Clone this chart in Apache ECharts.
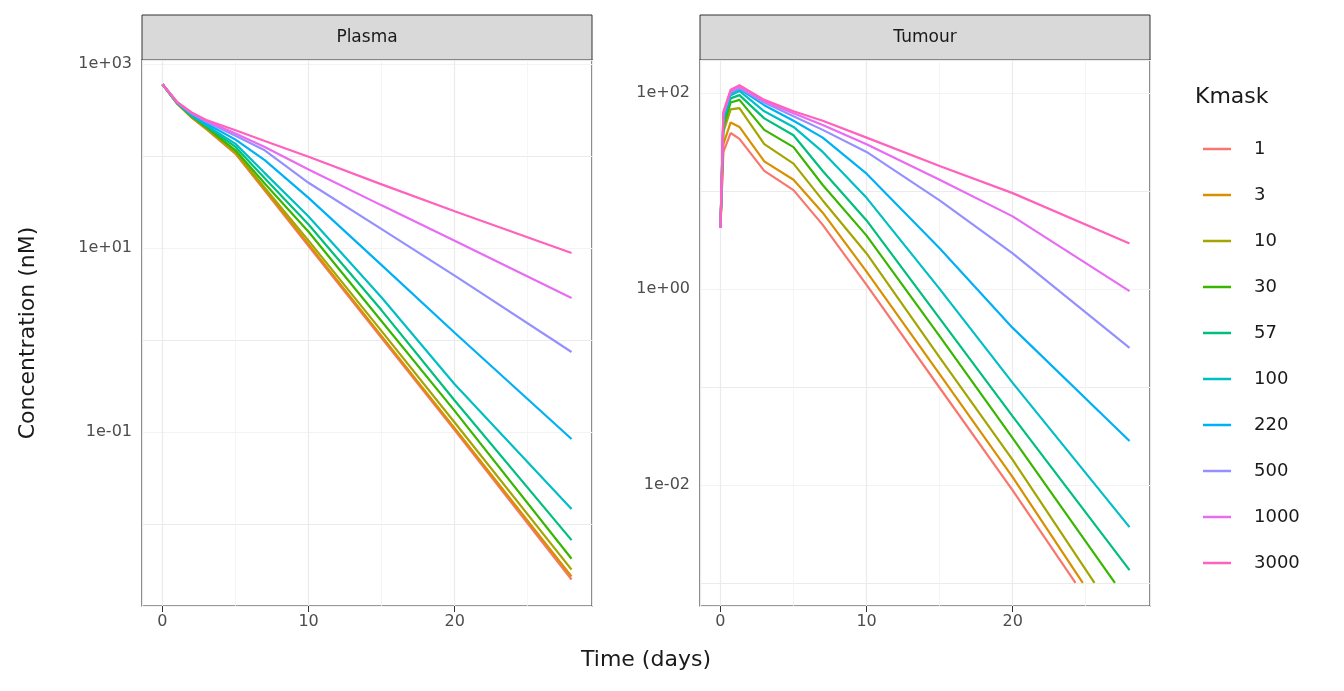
<!DOCTYPE html>
<html><head><meta charset="utf-8">
<script src="https://cdn.jsdelivr.net/npm/echarts@6/dist/echarts.min.js"></script>
<style>html,body{margin:0;padding:0;background:#fff}#c{width:1344px;height:691px}</style>
</head><body><div id="c"></div>
<script>
const kmask = ['1','3','10','30','57','100','220','500','1000','3000'];
const colors = ['#F8766D','#D89000','#A3A500','#39B600','#00BF7D','#00BFC4','#00B0F6','#9590FF','#E76BF3','#FF62BC'];
const plasmaTimes = [0,1,2,3,5,7,10,15,20,28];
const plasma1 = [600,370,260,195,105,42,10.5,1.05,0.105,0.0025];
const plasma3 = [600,370,262,197,107,43,11,1.1,0.11,0.0027];
const plasma10 = [600,372,265,200,110,45,12,1.25,0.127,0.0032];
const plasma30 = [600,374,268,205,115,50,15,1.6,0.17,0.0042];
const plasma57 = [600,376,272,210,125,57,18,2.1,0.22,0.0067];
const plasma100 = [600,378,276,215,135,65,22,2.9,0.33,0.0146];
const plasma220 = [600,380,282,225,150,90,35,6.5,1.2,0.084];
const plasma500 = [600,382,288,235,165,115,51,16,5,0.74];
const plasma1000 = [600,384,292,240,175,125,71,29,12,2.86];
const plasma3000 = [600,386,296,245,190,145,98,49,25,8.8];
const tumourTimes = [0,0.2,0.7,1.3,3,5,7,10,15,20];
const tumour1 = [4.2,25,39,34,16,10.2,4.5,1.1,0.098,0.0088];
const tumour3 = [4.2,30,50,45,20,13,6,1.5,0.135,0.012];
const tumour10 = [4.2,40,68,70,30,19,8,2.3,0.2,0.018];
const tumour30 = [4.2,45,80,85,42,28,11.5,3.5,0.33,0.03];
const tumour57 = [4.2,50,88,95,55,37,16,5,0.5,0.05];
const tumour100 = [4.2,55,95,105,65,45,25,8.5,1.0,0.11];
const tumour220 = [4.2,58,100,110,75,52,35,15,2.6,0.4];
const tumour500 = [4.2,60,102,112,80,58,42,25,8,2.3];
const tumour1000 = [4.2,62,105,115,82,62,47,30,13,5.5];
const tumour3000 = [4.2,64,108,120,85,65,52,35,18,9.5];
const tumourEndTime = [24.3,24.8,25.6,27,28,28,28,28,28,28];
const tumourEndValue = [0.001,0.001,0.001,0.001,0.00135,0.0037,0.028,0.25,0.95,2.9];
const plasmaYTicks = ['1e-01','1e+01','1e+03'];
const tumourYTicks = ['1e-02','1e+00','1e+02'];

const plasmaAll = [plasma1,plasma3,plasma10,plasma30,plasma57,plasma100,plasma220,plasma500,plasma1000,plasma3000];
const tumourAll = [tumour1,tumour3,tumour10,tumour30,tumour57,tumour100,tumour220,tumour500,tumour1000,tumour3000];

function fmt(v, allowed){
  const l = Math.log10(v);
  const e = Math.round(l);
  if (Math.abs(l - e) > 0.01) return '';
  const s = (e<0?'-':'+') + String(Math.abs(e)).padStart(2,'0');
  const lab = '1e'+s;
  return allowed.indexOf(lab)>=0 ? lab : '';
}
const axisLabelStyle = {color:'#4d4d4d', fontSize:16, fontFamily:'DejaVu Sans'};
function xAxis(gi){
  return {type:'value', gridIndex:gi, min:-1.4, max:29.4, splitNumber:3,
    axisLine:{show:false}, axisTick:{show:true, length:6, lineStyle:{color:'#333'}},
    axisLabel:Object.assign({showMinLabel:false, showMaxLabel:false, margin:8}, axisLabelStyle),
    splitLine:{show:true, lineStyle:{color:'#ebebeb', width:1.2}},
    minorTick:{show:false, splitNumber:2}, minorSplitLine:{show:true, lineStyle:{color:'#f3f3f3', width:0.8}}};
}
function yAxis(gi, min, max, ticks, cols){
  return {type:'log', logBase:10, gridIndex:gi, min:min, max:max,
    axisLine:{show:false}, axisTick:{show:false},
    axisLabel:Object.assign({margin:10, showMinLabel:false, showMaxLabel:false, formatter:v=>fmt(v,ticks)}, axisLabelStyle),
    splitLine:{show:true, lineStyle:{color:cols, width:1.2}}};
}
const series = [];
kmask.forEach((k,i)=>{
  series.push({name:k, type:'line', xAxisIndex:0, yAxisIndex:0, symbol:'none', smooth:false,
    lineStyle:{width:2.2, color:colors[i]}, itemStyle:{color:colors[i]}, z:2+i,
    data: plasmaTimes.map((t,j)=>[t, plasmaAll[i][j]])});
  const d = tumourTimes.map((t,j)=>[t, tumourAll[i][j]]);
  d.push([tumourEndTime[i], tumourEndValue[i]]);
  series.push({name:k, type:'line', xAxisIndex:1, yAxisIndex:1, symbol:'none', smooth:false,
    lineStyle:{width:2.2, color:colors[i]}, itemStyle:{color:colors[i]}, z:2+i, data:d});
});
const chart = echarts.init(document.getElementById('c'));
function strip(x, label){
  return [{type:'rect', shape:{x:x, y:15, width:450, height:45}, style:{fill:'#d9d9d9', stroke:'#333', lineWidth:1}},
          {type:'text', x:x+225, y:38, style:{text:label, fill:'#1a1a1a', font:'17px DejaVu Sans', align:'center', verticalAlign:'middle'}}];
}
chart.setOption({
  animation:false,
  grid:[{left:142, width:450, top:60, bottom:85, show:true, borderColor:'#333', borderWidth:1.2, backgroundColor:'transparent'},
        {left:700, width:450, top:60, bottom:85, show:true, borderColor:'#333', borderWidth:1.2, backgroundColor:'transparent'}],
  xAxis:[xAxis(0), xAxis(1)],
  yAxis:[yAxis(0, 1.29e-3, 1.1e3, plasmaYTicks, ['#f3f3f3','#ebebeb']),
         yAxis(1, 5.8e-4, 217, tumourYTicks, ['#f3f3f3','#ebebeb'])],
  legend:{orient:'vertical', left:1198, top:134, icon:'rect', itemWidth:28, itemHeight:2.5, itemGap:26,
    data:kmask, textStyle:{fontSize:18, lineHeight:20, height:20, color:'#1a1a1a', fontFamily:'DejaVu Sans', padding:[0,0,0,18]}},
  graphic:[...strip(142,'Plasma'), ...strip(700,'Tumour'),
    {type:'text', x:1195, y:97, style:{text:'Kmask', fill:'#1a1a1a', font:'22px DejaVu Sans', verticalAlign:'middle'}},
    {type:'text', x:646, y:660, style:{text:'Time (days)', fill:'#1a1a1a', font:'22px DejaVu Sans', align:'center', verticalAlign:'middle'}},
    {type:'text', x:28, y:333, rotation:Math.PI/2, style:{text:'Concentration (nM)', fill:'#1a1a1a', font:'22px DejaVu Sans', align:'center', verticalAlign:'middle'}}],
  series:series
});
</script></body></html>
